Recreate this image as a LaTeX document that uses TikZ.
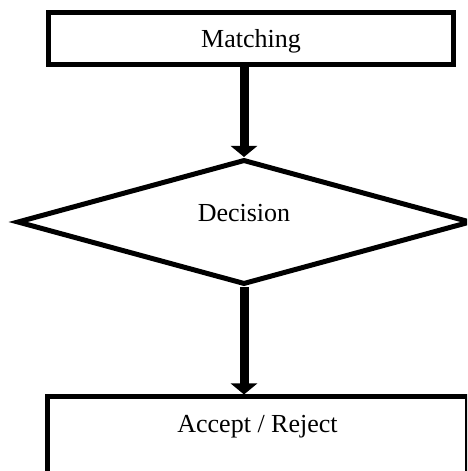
\documentclass[tikz,border=0pt]{standalone}
\usepackage{fontspec}
\setmainfont{Liberation Serif}
\usepackage{tikz}
\usetikzlibrary{shapes.geometric, arrows.meta}
\usetikzlibrary{positioning}
\tikzstyle{stepbox} = [rectangle, draw=black, line width=5pt, fill=white, inner sep=0pt, text centered, text height=18pt]
\tikzstyle{decide} = [diamond, draw=black, line width=5pt, fill=white, inner sep=0pt, aspect=3.6, text centered, text height=18pt, text depth=18pt]
\tikzstyle{arrow} = [line width=9pt, ->, >={Triangle[width=26pt,length=11pt]}]

\begin{document}
\begin{tikzpicture}[x=1pt, y=1pt, font=\fontsize{26}{31}\selectfont]
		\useasboundingbox (0,0) rectangle (467,471);
		\clip (0,0) rectangle (467,471);
		\coordinate (matching) at (251,432.5);
		\coordinate (decision) at (244,249);
		\coordinate (verdict) at (257.5,32);
		% Process boxes
		\begin{scope}[every node/.style={stepbox}]
		\node[name=match, minimum width=405pt, minimum height=52pt, text depth=0pt] at (matching) {Matching};
		\node[name=result, minimum width=420pt, minimum height=84pt, text depth=30pt] at (verdict) {Accept / Reject};
		\end{scope}
		% Decision
		\node[decide, name=decide, minimum width=454pt, minimum height=125pt] at (decision) {Decision};
		\draw [arrow] (decide.north |- match.south)--(decide.north);
		\draw [arrow] (decide.south)--(decide.south |- result.north);
		\end{tikzpicture}
\end{document}
